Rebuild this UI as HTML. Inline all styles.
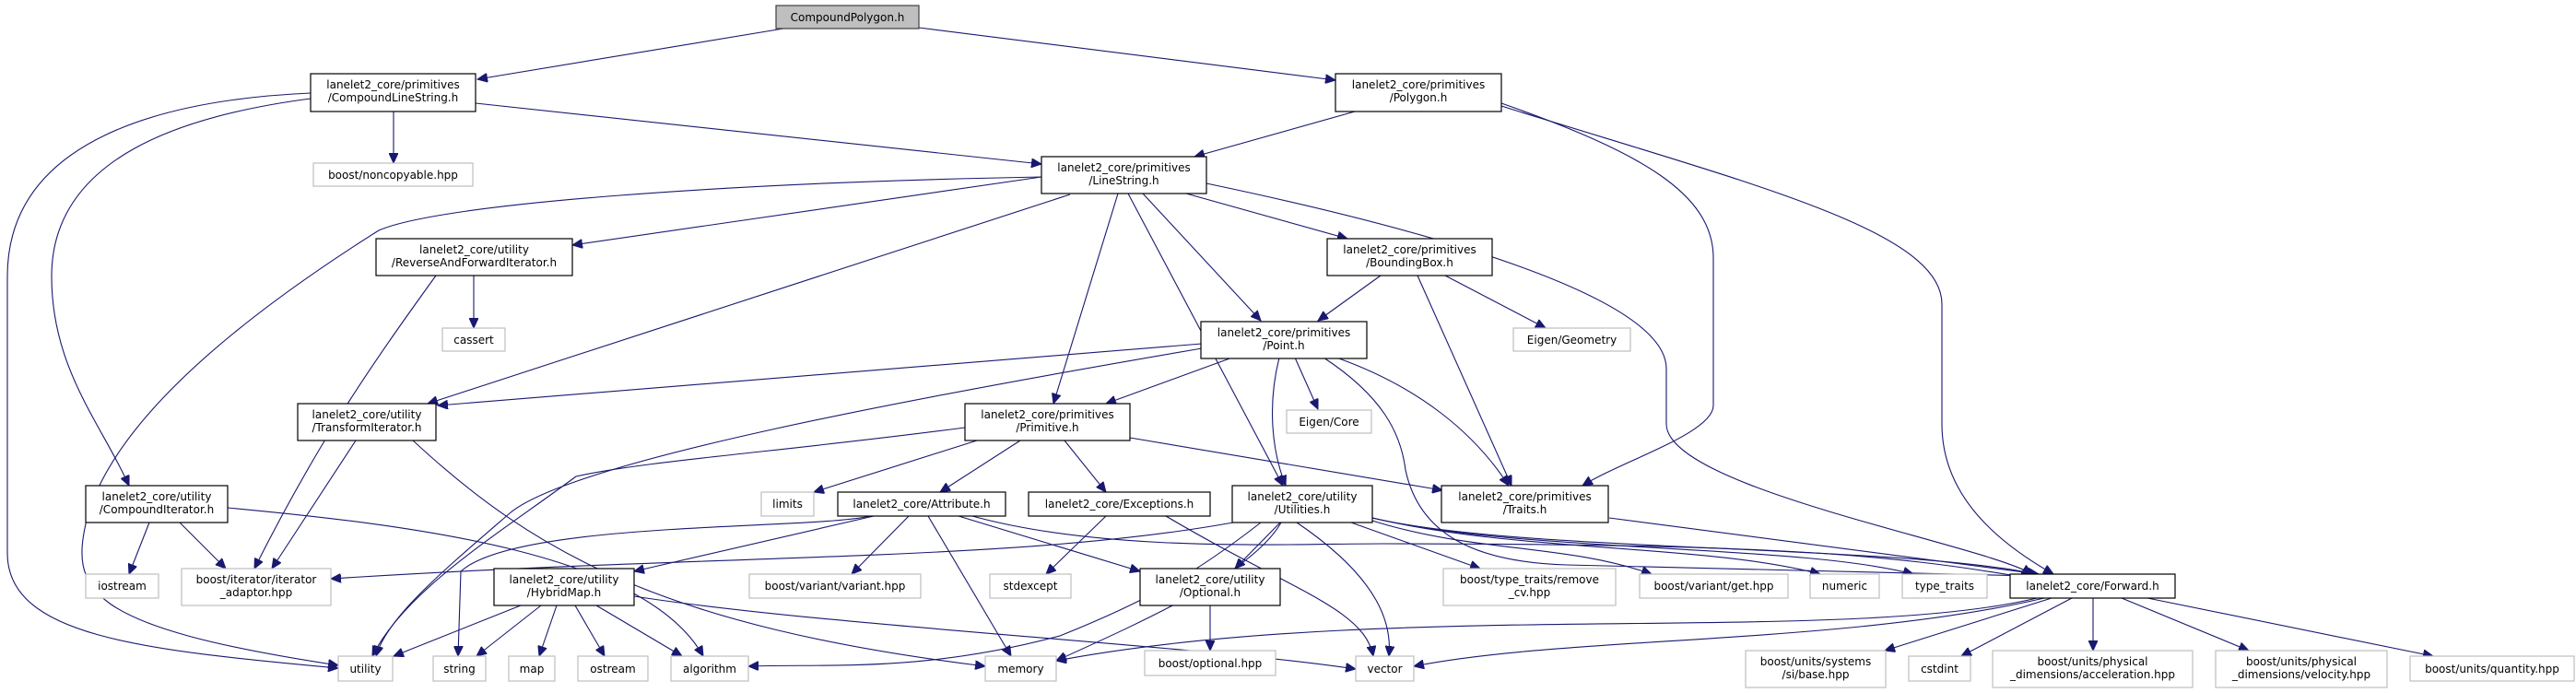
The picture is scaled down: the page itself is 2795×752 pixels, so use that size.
<!DOCTYPE html>
<html><head><meta charset="utf-8"><style>
html,body{margin:0;padding:0;background:#fff;}
svg{display:block;}
text{font-family:"DejaVu Sans","Liberation Sans",sans-serif;font-size:12px;fill:#000;text-anchor:middle;}
.n{fill:#fff;stroke:#000;stroke-width:1.2;}
.x{fill:#fff;stroke:#bfbfbf;stroke-width:1.2;}
.r{fill:#bfbfbf;stroke:#404040;stroke-width:1.2;}
path.e{fill:none;stroke:#191970;stroke-width:1.1;marker-end:url(#a);}
</style></head><body>
<svg width="2795" height="752" viewBox="0 0 2795 752" xmlns="http://www.w3.org/2000/svg">
<defs><marker id="a" markerUnits="userSpaceOnUse" markerWidth="12" markerHeight="10" refX="11" refY="5" orient="auto"><path d="M0,0 L11,5 L0,10 z" fill="#191970" stroke="#191970"/></marker></defs>

<!-- edges -->
<path class="e" d="M850,31 L518,86"/>
<path class="e" d="M997,30 L1449,87"/>
<path class="e" d="M427,121 L427,177"/>
<path class="e" d="M516,112 L1130,178"/>
<path class="e" d="M337,101 C180,108 8,150 8,300 L8,600 C8,690 150,705 367,725"/>
<path class="e" d="M337,107 C200,125 56,170 56,300 C56,400 110,460 140,527"/>
<path class="e" d="M1470,121 L1296,170"/>
<path class="e" d="M1629,112 C1780,165 1859,210 1859,280 L1859,440 C1859,470 1760,500 1717,527"/>
<path class="e" d="M1629,115 C1900,200 2107,250 2107,330 L2107,460 C2107,540 2170,590 2228,623"/>
<path class="e" d="M1130,192 L621,266"/>
<path class="e" d="M1130,192 C800,198 480,220 411,250 C300,320 130,440 95,560 C75,640 90,680 367,722"/>
<path class="e" d="M1161,211 L464,438"/>
<path class="e" d="M1213,210 L1143,438"/>
<path class="e" d="M1224,210 L1392,527"/>
<path class="e" d="M1240,210 L1368,348"/>
<path class="e" d="M1287,210 L1462,259"/>
<path class="e" d="M1309,199 C1600,260 1808,330 1808,400 L1808,460 C1808,530 2150,590 2205,623"/>
<path class="e" d="M514,299 L514,356"/>
<path class="e" d="M473,299 C400,400 345,480 276,617"/>
<path class="e" d="M1498,299 L1430,348"/>
<path class="e" d="M1538,299 L1640,527"/>
<path class="e" d="M1568,299 L1677,356"/>
<path class="e" d="M1304,373 L475,440"/>
<path class="e" d="M1304,378 C1000,430 620,500 553,557 C480,620 420,670 408,712"/>
<path class="e" d="M1337,388 L1200,438"/>
<path class="e" d="M1405,388 L1430,444"/>
<path class="e" d="M1388,388 C1375,440 1380,490 1395,527"/>
<path class="e" d="M1450,388 C1540,420 1600,470 1637,527"/>
<path class="e" d="M1436,388 C1500,430 1520,470 1525,510 C1540,580 1600,610 1700,613 L2204,625"/>
<path class="e" d="M386,478 L295,617"/>
<path class="e" d="M448,478 C580,600 720,680 1069,723"/>
<path class="e" d="M1060,478 L883,534"/>
<path class="e" d="M1107,478 L1020,534"/>
<path class="e" d="M1155,478 L1200,534"/>
<path class="e" d="M1226,475 L1565,532"/>
<path class="e" d="M1047,464 C850,490 700,500 625,517 C540,580 440,640 404,712"/>
<path class="e" d="M162,567 L140,623"/>
<path class="e" d="M195,567 L245,617"/>
<path class="e" d="M247,551 C450,570 700,600 763,712"/>
<path class="e" d="M948,560 L688,620"/>
<path class="e" d="M944,560 C880,575 560,565 500,620 L497,712"/>
<path class="e" d="M986,560 L924,623"/>
<path class="e" d="M1007,560 L1097,712"/>
<path class="e" d="M1040,560 L1237,620"/>
<path class="e" d="M1055,560 C1200,600 1400,590 1500,590 C1900,590 2050,600 2204,628"/>
<path class="e" d="M1200,560 L1135,623"/>
<path class="e" d="M1265,560 C1400,640 1480,660 1490,712"/>
<path class="e" d="M1338,567 C1100,610 800,600 359,628"/>
<path class="e" d="M1368,567 C1300,620 1250,650 1150,690 C1000,730 900,720 812,723"/>
<path class="e" d="M1390,567 C1360,620 1250,670 1146,717"/>
<path class="e" d="M1389,567 L1340,617"/>
<path class="e" d="M1407,567 C1500,630 1510,680 1507,712"/>
<path class="e" d="M1466,567 L1606,617"/>
<path class="e" d="M1489,565 C1600,600 1700,590 1792,623"/>
<path class="e" d="M1489,562 C1650,600 1850,590 1975,623"/>
<path class="e" d="M1489,562 C1650,600 1950,590 2076,623"/>
<path class="e" d="M1489,562 C1650,600 2050,590 2210,623"/>
<path class="e" d="M1746,562 L2212,623"/>
<path class="e" d="M565,657 L427,712"/>
<path class="e" d="M587,657 L517,712"/>
<path class="e" d="M604,657 L585,712"/>
<path class="e" d="M624,657 L656,712"/>
<path class="e" d="M647,657 L740,712"/>
<path class="e" d="M688,647 C900,680 1300,700 1471,726"/>
<path class="e" d="M1313,657 L1313,706"/>
<path class="e" d="M2210,649 C2000,700 1500,650 1146,717"/>
<path class="e" d="M2218,649 C2000,700 1700,690 1534,723"/>
<path class="e" d="M2226,649 L2045,706"/>
<path class="e" d="M2248,649 L2128,712"/>
<path class="e" d="M2271,649 L2271,706"/>
<path class="e" d="M2302,649 L2440,706"/>
<path class="e" d="M2330,649 L2640,712"/>

<!-- nodes -->
<rect class="r" x="842" y="6" width="155" height="25"/><text x="919.5" y="23">CompoundPolygon.h</text>
<rect class="n" x="337" y="80" width="179" height="41"/><text x="426.5" y="96">lanelet2_core/primitives</text><text x="426.5" y="110">/CompoundLineString.h</text>
<rect class="n" x="1449" y="80" width="180" height="41"/><text x="1539" y="96">lanelet2_core/primitives</text><text x="1539" y="110">/Polygon.h</text>
<rect class="x" x="340" y="177" width="173" height="25"/><text x="426.5" y="194">boost/noncopyable.hpp</text>
<rect class="n" x="1130" y="170" width="179" height="40"/><text x="1219.5" y="186">lanelet2_core/primitives</text><text x="1219.5" y="200">/LineString.h</text>
<rect class="n" x="408" y="259" width="213" height="40"/><text x="514.5" y="275">lanelet2_core/utility</text><text x="514.5" y="289">/ReverseAndForwardIterator.h</text>
<rect class="n" x="1440" y="259" width="179" height="40"/><text x="1529.5" y="275">lanelet2_core/primitives</text><text x="1529.5" y="289">/BoundingBox.h</text>
<rect class="x" x="480" y="356" width="68" height="25"/><text x="514" y="373">cassert</text>
<rect class="n" x="1303" y="349" width="180" height="40"/><text x="1393" y="365">lanelet2_core/primitives</text><text x="1393" y="379">/Point.h</text>
<rect class="x" x="1642" y="356" width="127" height="25"/><text x="1705.5" y="373">Eigen/Geometry</text>
<rect class="x" x="1396" y="445" width="92" height="25"/><text x="1442" y="462">Eigen/Core</text>
<rect class="n" x="323" y="438" width="150" height="40"/><text x="398" y="454">lanelet2_core/utility</text><text x="398" y="468">/TransformIterator.h</text>
<rect class="n" x="1047" y="438" width="179" height="40"/><text x="1136.5" y="454">lanelet2_core/primitives</text><text x="1136.5" y="468">/Primitive.h</text>
<rect class="n" x="93" y="527" width="154" height="40"/><text x="170" y="543">lanelet2_core/utility</text><text x="170" y="557">/CompoundIterator.h</text>
<rect class="x" x="826" y="534" width="57" height="26"/><text x="854.5" y="551">limits</text>
<rect class="n" x="909" y="534" width="182" height="26"/><text x="1000" y="551">lanelet2_core/Attribute.h</text>
<rect class="n" x="1116" y="534" width="197" height="26"/><text x="1214.5" y="551">lanelet2_core/Exceptions.h</text>
<rect class="n" x="1337" y="527" width="152" height="40"/><text x="1413" y="543">lanelet2_core/utility</text><text x="1413" y="557">/Utilities.h</text>
<rect class="n" x="1564" y="527" width="181" height="40"/><text x="1654.5" y="543">lanelet2_core/primitives</text><text x="1654.5" y="557">/Traits.h</text>
<rect class="x" x="93" y="623" width="79" height="26"/><text x="132.5" y="640">iostream</text>
<rect class="x" x="197" y="617" width="162" height="40"/><text x="278" y="633">boost/iterator/iterator</text><text x="278" y="647">_adaptor.hpp</text>
<rect class="n" x="536" y="617" width="152" height="40"/><text x="612" y="633">lanelet2_core/utility</text><text x="612" y="647">/HybridMap.h</text>
<rect class="x" x="813" y="623" width="186" height="26"/><text x="906" y="640">boost/variant/variant.hpp</text>
<rect class="x" x="1074" y="623" width="88" height="26"/><text x="1118" y="640">stdexcept</text>
<rect class="n" x="1237" y="617" width="152" height="40"/><text x="1313" y="633">lanelet2_core/utility</text><text x="1313" y="647">/Optional.h</text>
<rect class="x" x="1566" y="617" width="187" height="40"/><text x="1659.5" y="633">boost/type_traits/remove</text><text x="1659.5" y="647">_cv.hpp</text>
<rect class="x" x="1779" y="623" width="161" height="26"/><text x="1859.5" y="640">boost/variant/get.hpp</text>
<rect class="x" x="1964" y="623" width="75" height="26"/><text x="2001.5" y="640">numeric</text>
<rect class="x" x="2064" y="623" width="92" height="26"/><text x="2110" y="640">type_traits</text>
<rect class="n" x="2181" y="623" width="179" height="26"/><text x="2270.5" y="640">lanelet2_core/Forward.h</text>
<rect class="x" x="367" y="712" width="59" height="27"/><text x="396.5" y="730">utility</text>
<rect class="x" x="470" y="712" width="57" height="27"/><text x="498.5" y="730">string</text>
<rect class="x" x="552" y="712" width="50" height="27"/><text x="577" y="730">map</text>
<rect class="x" x="627" y="712" width="76" height="27"/><text x="665" y="730">ostream</text>
<rect class="x" x="728" y="712" width="84" height="27"/><text x="770" y="730">algorithm</text>
<rect class="x" x="1069" y="712" width="77" height="27"/><text x="1107.5" y="730">memory</text>
<rect class="x" x="1242" y="706" width="142" height="27"/><text x="1313" y="724">boost/optional.hpp</text>
<rect class="x" x="1471" y="712" width="63" height="27"/><text x="1502.5" y="730">vector</text>
<rect class="x" x="1894" y="706" width="152" height="40"/><text x="1970" y="722">boost/units/systems</text><text x="1970" y="736">/si/base.hpp</text>
<rect class="x" x="2071" y="712" width="67" height="27"/><text x="2104.5" y="730">cstdint</text>
<rect class="x" x="2162" y="706" width="217" height="40"/><text x="2270.5" y="722">boost/units/physical</text><text x="2270.5" y="736">_dimensions/acceleration.hpp</text>
<rect class="x" x="2404" y="706" width="186" height="40"/><text x="2497" y="722">boost/units/physical</text><text x="2497" y="736">_dimensions/velocity.hpp</text>
<rect class="x" x="2615" y="712" width="178" height="27"/><text x="2704" y="730">boost/units/quantity.hpp</text>
</svg>
</body></html>
